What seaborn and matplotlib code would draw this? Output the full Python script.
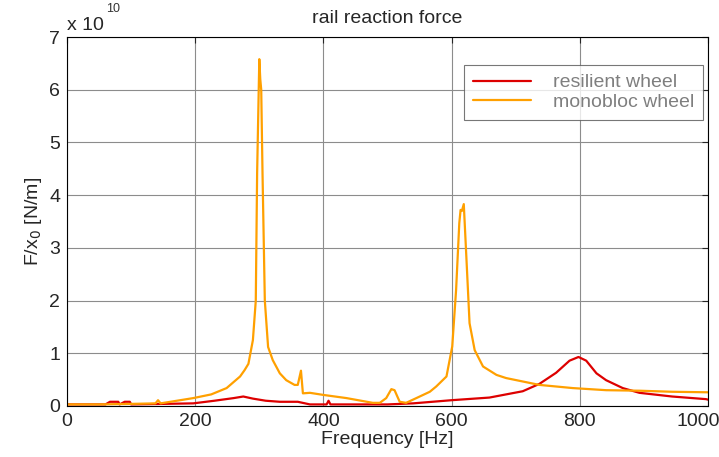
import numpy as np
import pandas as pd
import seaborn as sns
import matplotlib
matplotlib.use("Agg")
import matplotlib.pyplot as plt
from matplotlib.transforms import ScaledTranslation

# values, F/x0 in units of 1e10 N/m
resilient_freq = [0, 60, 67, 80, 82, 90, 98, 100, 150, 197, 230, 260, 275, 290, 310,
                  332, 360, 379, 400, 405, 408, 411, 450, 500, 540, 600, 659, 711,
                  737, 763, 784, 798, 810, 826, 841, 867, 893, 944, 997, 1000]
resilient_force = [0.03, 0.03, 0.08, 0.08, 0.03, 0.08, 0.08, 0.03, 0.04, 0.05, 0.10, 0.15,
                   0.18, 0.14, 0.10, 0.08, 0.08, 0.03, 0.03, 0.03, 0.10, 0.03, 0.03, 0.03,
                   0.05, 0.11, 0.16, 0.28, 0.42, 0.63, 0.86, 0.93, 0.86, 0.62, 0.49, 0.34,
                   0.25, 0.18, 0.13, 0.12]

monobloc_freq = [0, 50, 100, 138, 142, 146, 197, 225, 249, 270, 277, 283, 290, 294.5,
                 296.6, 300, 301.5, 303, 305, 308.6, 313.7, 321, 332, 342, 355, 360, 365,
                 368, 379, 400, 436, 477, 488, 498, 506, 511, 519, 529, 545, 566, 576,
                 592, 601, 607, 612, 614, 616, 619, 623, 628, 636, 649, 670, 685, 737,
                 789, 841, 893, 944, 1000]
monobloc_force = [0.03, 0.03, 0.04, 0.05, 0.11, 0.05, 0.15, 0.22, 0.34, 0.56, 0.68, 0.80,
                  1.25, 2.0, 4.42, 6.58, 6.2, 6.0, 4.42, 2.0, 1.12, 0.87, 0.62, 0.49, 0.40,
                  0.40, 0.67, 0.24, 0.25, 0.21, 0.15, 0.06, 0.06, 0.15, 0.32, 0.30, 0.08,
                  0.06, 0.15, 0.27, 0.37, 0.56, 1.13, 2.2, 3.47, 3.72, 3.70, 3.83, 2.83,
                  1.57, 1.06, 0.75, 0.59, 0.53, 0.40, 0.34, 0.30, 0.29, 0.27, 0.26]

series_names = ["resilient wheel", "monobloc wheel"]
colors = ["#dd0000", "#ffa000"]

df = pd.concat([
    pd.DataFrame({"freq": resilient_freq, "force": resilient_force, "wheel": series_names[0]}),
    pd.DataFrame({"freq": monobloc_freq, "force": monobloc_force, "wheel": series_names[1]}),
])

sns.set_style("white")
plt.rcParams["font.family"] = ["Liberation Sans", "DejaVu Sans"]
plt.rcParams["xtick.direction"] = "in"
plt.rcParams["ytick.direction"] = "in"

fig = plt.figure(figsize=(7.19, 4.57), dpi=100)
ax = fig.add_axes([0.0932, 0.1116, 0.8915, 0.8074])

sns.lineplot(data=df, x="freq", y="force", hue="wheel", palette=colors,
             estimator=None, sort=False, linewidth=1.6, ax=ax)

ax.set_xlim(0, 1000)
ax.set_ylim(0, 7)
ax.set_xticks(np.arange(0, 1001, 200))
ax.set_yticks(np.arange(0, 8, 1))
ax.grid(True, color="#8c8c8c", linewidth=0.8)
ax.set_axisbelow(True)
ax.tick_params(labelsize=14, top=True, right=True, length=4, width=0.8, pad=5)
for s in ax.spines.values():
    s.set_color("black")
    s.set_linewidth(0.8)

# keep "1000" inside the figure like the reference
last = ax.get_xticklabels()[-1]
last.set_transform(last.get_transform() + ScaledTranslation(-0.1, 0, fig.dpi_scale_trans))

ax.set_xlabel("Frequency [Hz]", fontsize=14, labelpad=1)
ax.set_ylabel("F/x$_0$ [N/m]", fontsize=14, labelpad=4)
ax.set_title("rail reaction force", fontsize=14, pad=10)
ax.text(0.0, 1.008, "x 10", transform=ax.transAxes, fontsize=14, ha="left", va="bottom")
ax.text(0.061, 1.06, "10", transform=ax.transAxes, fontsize=9, ha="left", va="bottom",
        color="#333333")

leg = ax.legend(loc="upper right", bbox_to_anchor=(0.992, 0.924), borderaxespad=0,
                fontsize=14, frameon=True, fancybox=False, edgecolor="#555555",
                handlelength=3.0, borderpad=0.45, labelspacing=0.1, handletextpad=1.1)
leg.get_frame().set_linewidth(0.8)
for t in leg.get_texts():
    t.set_color("#7f7f7f")

fig.savefig("out.png", dpi=100)
